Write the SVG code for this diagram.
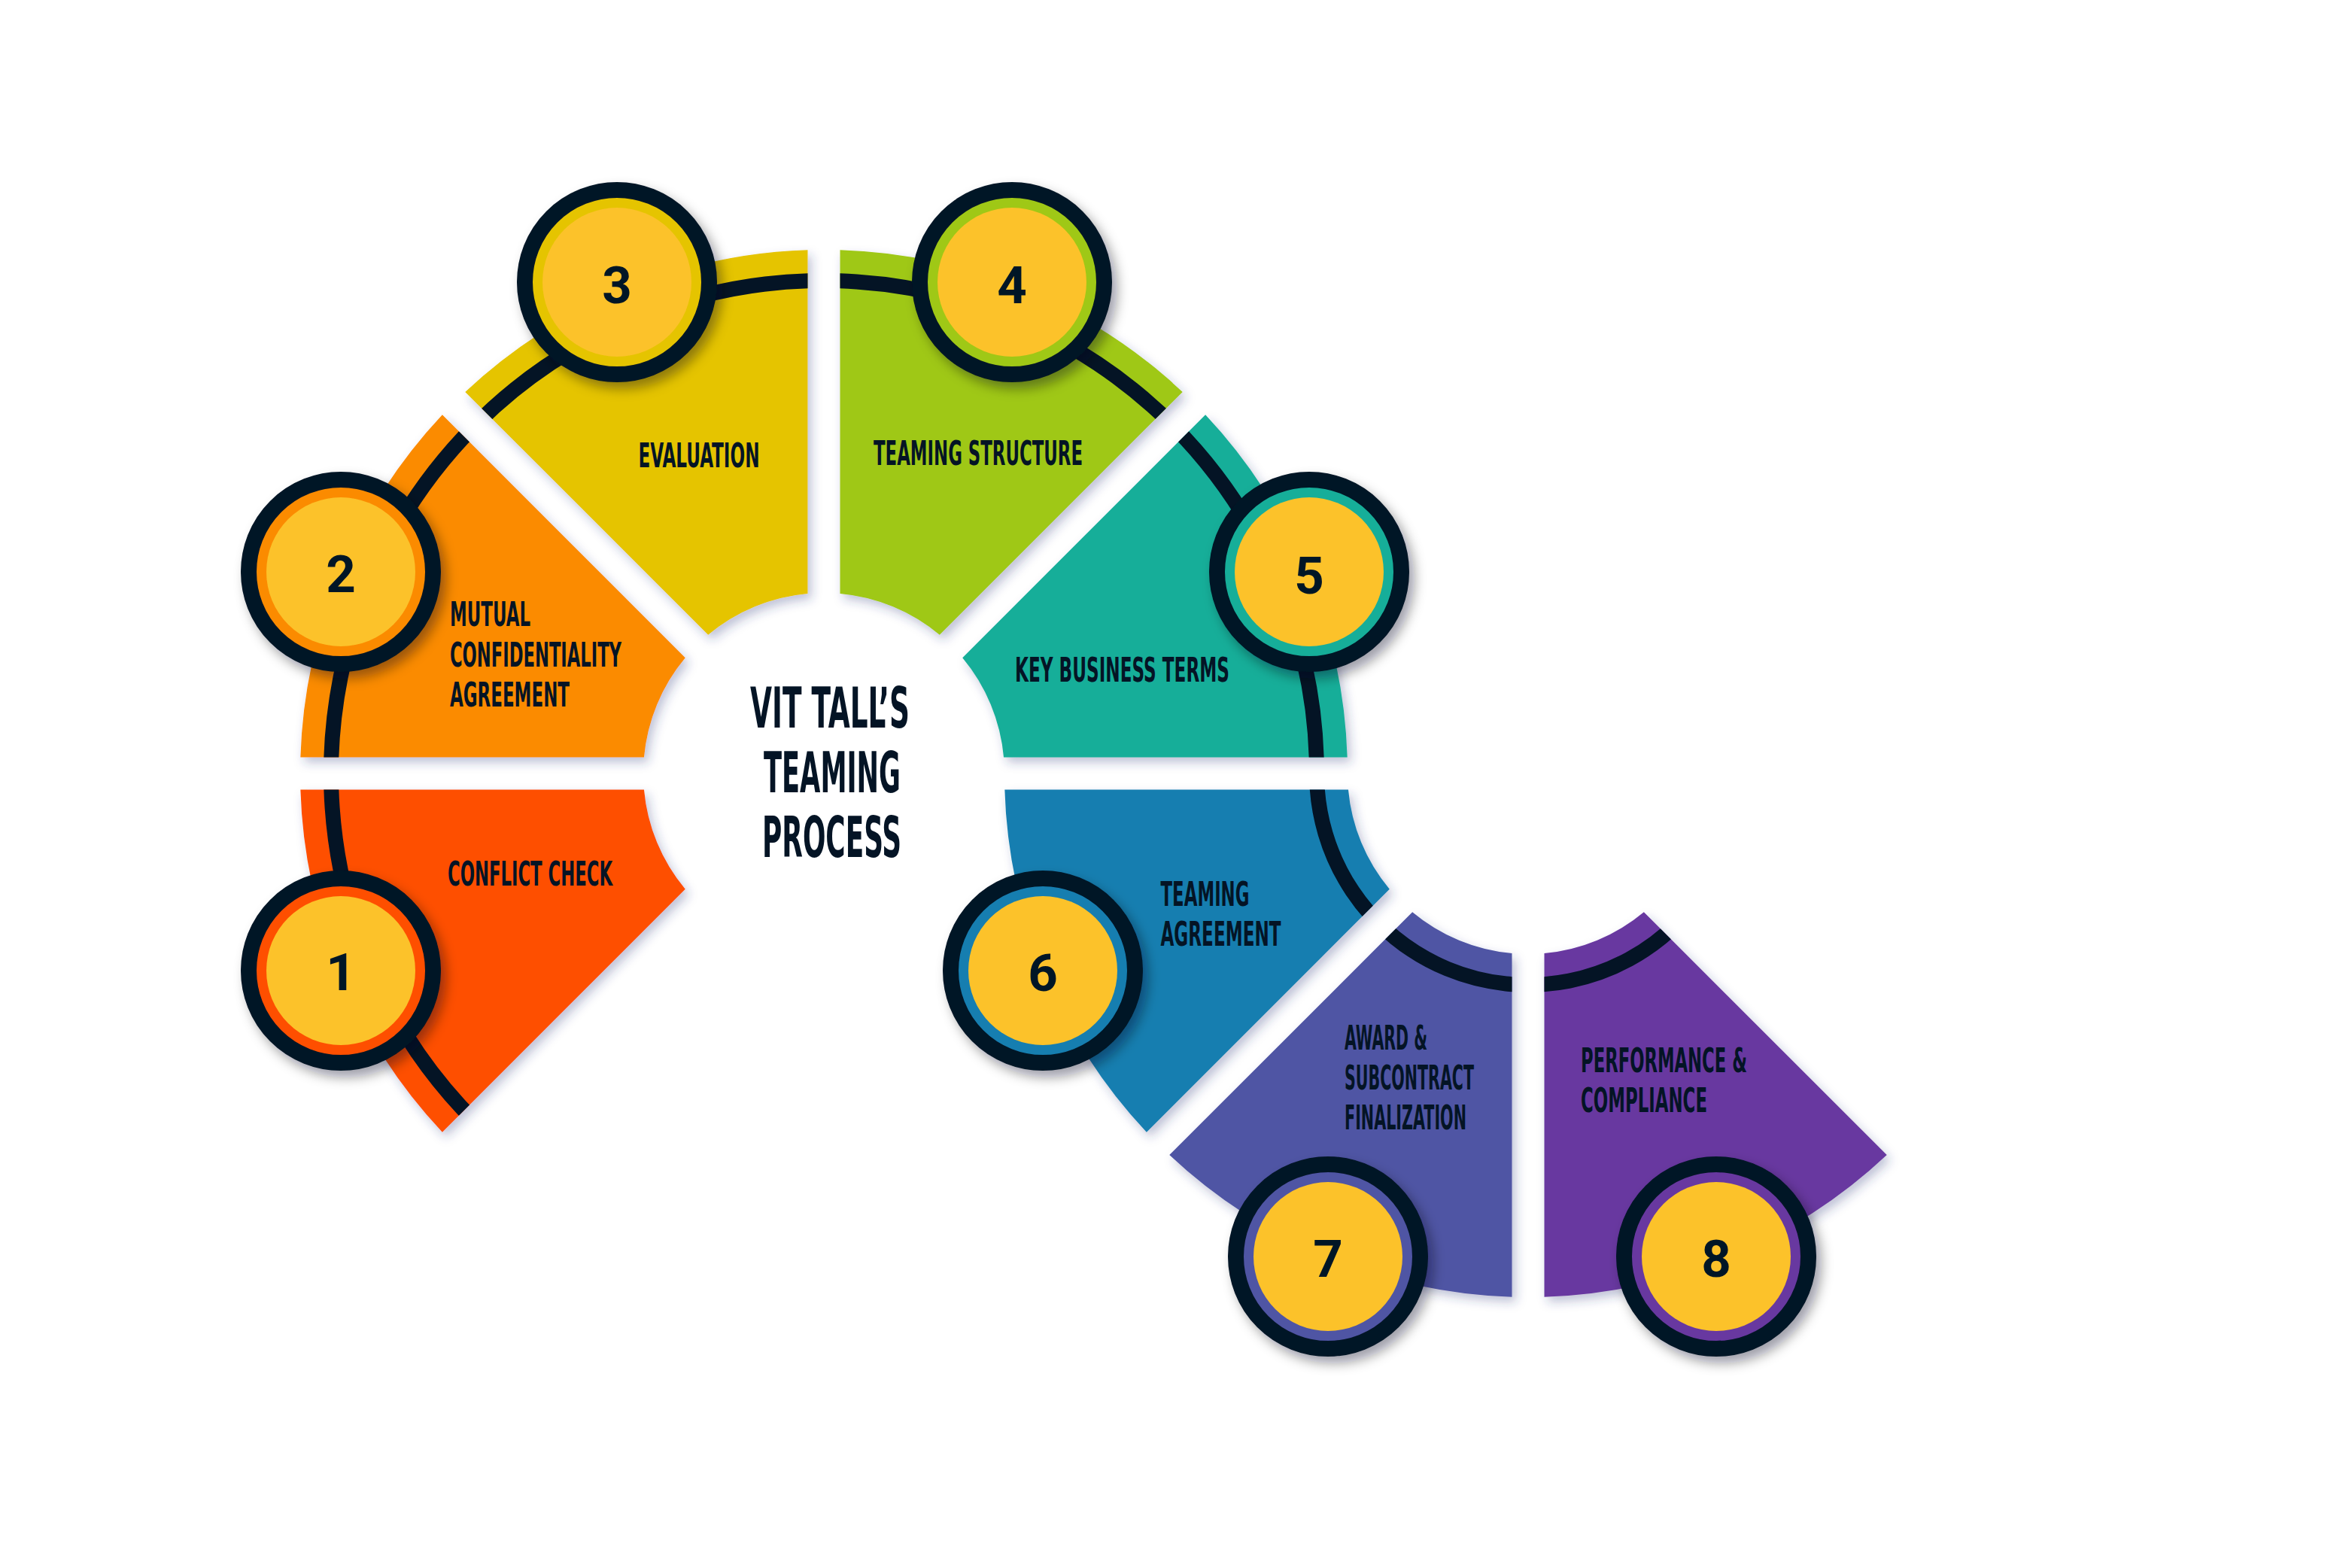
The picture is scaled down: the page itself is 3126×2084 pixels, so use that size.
<svg xmlns="http://www.w3.org/2000/svg" width="3126" height="2084" viewBox="0 0 3126 2084">
<style>
.lbl{font-family:"Liberation Sans Narrow","DejaVu Sans Condensed","Liberation Sans",sans-serif;font-weight:700;font-size:45px;fill:#041425}
.title{font-family:"Liberation Sans Narrow","DejaVu Sans Condensed","Liberation Sans",sans-serif;font-weight:700;font-size:75px;fill:#041425}
.num{font-family:Roboto,"Liberation Sans",sans-serif;font-weight:700;font-size:69px;fill:#041425;text-anchor:middle}
.ring{fill:none;stroke:#041425;stroke-width:20}
.seg{filter:url(#segShadow)}
.badge{filter:url(#badgeShadow)}
.bo{stroke:#041425;stroke-width:21}
.by{fill:#FCC22A}
</style>
<defs>
<filter id="segShadow" x="-20%" y="-20%" width="140%" height="140%">
<feDropShadow dx="5" dy="7" stdDeviation="7" flood-color="#2B3A7A" flood-opacity="0.3"/>
</filter>
<filter id="badgeShadow" x="-30%" y="-30%" width="160%" height="160%">
<feDropShadow dx="7" dy="9" stdDeviation="8" flood-color="#000814" flood-opacity="0.38"/>
</filter>
<path id="sRing" d="M631.85,1491.15 A655,655 0 1 1 1750,1028 A281,281 0 0 0 2229.7,1226.7"/>
<clipPath id="c1"><path d="M910.77,1181.83 L587.88,1504.72 A696,696 0 0 1 399.33,1049.5 L855.96,1049.5 A240,240 0 0 0 910.77,1181.83 Z"/></clipPath>
<clipPath id="c2"><path d="M855.96,1006.5 L399.33,1006.5 A696,696 0 0 1 587.88,551.28 L910.77,874.17 A240,240 0 0 0 855.96,1006.5 Z"/></clipPath>
<clipPath id="c3"><path d="M941.17,843.77 L618.28,520.88 A696,696 0 0 1 1073.5,332.33 L1073.5,788.96 A240,240 0 0 0 941.17,843.77 Z"/></clipPath>
<clipPath id="c4"><path d="M1116.5,788.96 L1116.5,332.33 A696,696 0 0 1 1571.72,520.88 L1248.83,843.77 A240,240 0 0 0 1116.5,788.96 Z"/></clipPath>
<clipPath id="c5"><path d="M1279.23,874.17 L1602.12,551.28 A696,696 0 0 1 1790.67,1006.5 L1334.04,1006.5 A240,240 0 0 0 1279.23,874.17 Z"/></clipPath>
<clipPath id="c6"><path d="M1846.77,1181.83 L1523.88,1504.72 A696,696 0 0 1 1335.33,1049.5 L1791.96,1049.5 A240,240 0 0 0 1846.77,1181.83 Z"/></clipPath>
<clipPath id="c7"><path d="M2009.5,1267.04 L2009.5,1723.67 A696,696 0 0 1 1554.28,1535.12 L1877.17,1212.23 A240,240 0 0 0 2009.5,1267.04 Z"/></clipPath>
<clipPath id="c8"><path d="M2184.83,1212.23 L2507.72,1535.12 A696,696 0 0 1 2052.5,1723.67 L2052.5,1267.04 A240,240 0 0 0 2184.83,1212.23 Z"/></clipPath>
</defs>
<rect width="3126" height="2084" fill="#FFFFFF"/>

<g id="node-1">
<path class="seg" fill="#FE5000" d="M910.77,1181.83 L587.88,1504.72 A696,696 0 0 1 399.33,1049.5 L855.96,1049.5 A240,240 0 0 0 910.77,1181.83 Z"/>
<text class="lbl" x="595" y="1177" textLength="219" lengthAdjust="spacingAndGlyphs">CONFLICT CHECK</text>
</g>
<g id="node-2">
<path class="seg" fill="#FB8B00" d="M855.96,1006.5 L399.33,1006.5 A696,696 0 0 1 587.88,551.28 L910.77,874.17 A240,240 0 0 0 855.96,1006.5 Z"/>
<text class="lbl" x="598" y="832" textLength="107" lengthAdjust="spacingAndGlyphs">MUTUAL</text>
<text class="lbl" x="598" y="886" textLength="228" lengthAdjust="spacingAndGlyphs">CONFIDENTIALITY</text>
<text class="lbl" x="598" y="939" textLength="159" lengthAdjust="spacingAndGlyphs">AGREEMENT</text>
</g>
<g id="node-3">
<path class="seg" fill="#E5C400" d="M941.17,843.77 L618.28,520.88 A696,696 0 0 1 1073.5,332.33 L1073.5,788.96 A240,240 0 0 0 941.17,843.77 Z"/>
<text class="lbl" x="848.5" y="621" textLength="161" lengthAdjust="spacingAndGlyphs">EVALUATION</text>
</g>
<g id="node-4">
<path class="seg" fill="#9FC815" d="M1116.5,788.96 L1116.5,332.33 A696,696 0 0 1 1571.72,520.88 L1248.83,843.77 A240,240 0 0 0 1116.5,788.96 Z"/>
<text class="lbl" x="1161" y="618" textLength="278" lengthAdjust="spacingAndGlyphs">TEAMING STRUCTURE</text>
</g>
<g id="node-5">
<path class="seg" fill="#15AE99" d="M1279.23,874.17 L1602.12,551.28 A696,696 0 0 1 1790.67,1006.5 L1334.04,1006.5 A240,240 0 0 0 1279.23,874.17 Z"/>
<text class="lbl" x="1349" y="906" textLength="285" lengthAdjust="spacingAndGlyphs">KEY BUSINESS TERMS</text>
</g>
<g id="node-6">
<path class="seg" fill="#157EB0" d="M1846.77,1181.83 L1523.88,1504.72 A696,696 0 0 1 1335.33,1049.5 L1791.96,1049.5 A240,240 0 0 0 1846.77,1181.83 Z"/>
<text class="lbl" x="1542.5" y="1204" textLength="118" lengthAdjust="spacingAndGlyphs">TEAMING</text>
<text class="lbl" x="1542.5" y="1257" textLength="160" lengthAdjust="spacingAndGlyphs">AGREEMENT</text>
</g>
<g id="node-7">
<path class="seg" fill="#4F54A4" d="M2009.5,1267.04 L2009.5,1723.67 A696,696 0 0 1 1554.28,1535.12 L1877.17,1212.23 A240,240 0 0 0 2009.5,1267.04 Z"/>
<text class="lbl" x="1787" y="1395" textLength="110" lengthAdjust="spacingAndGlyphs">AWARD &amp;</text>
<text class="lbl" x="1787" y="1448" textLength="172" lengthAdjust="spacingAndGlyphs">SUBCONTRACT</text>
<text class="lbl" x="1787" y="1501" textLength="162" lengthAdjust="spacingAndGlyphs">FINALIZATION</text>
</g>
<g id="node-8">
<path class="seg" fill="#6838A0" d="M2184.83,1212.23 L2507.72,1535.12 A696,696 0 0 1 2052.5,1723.67 L2052.5,1267.04 A240,240 0 0 0 2184.83,1212.23 Z"/>
<text class="lbl" x="2101" y="1425" textLength="221" lengthAdjust="spacingAndGlyphs">PERFORMANCE &amp;</text>
<text class="lbl" x="2101" y="1478" textLength="168" lengthAdjust="spacingAndGlyphs">COMPLIANCE</text>
</g>

<g id="connectors">
<use href="#sRing" class="ring" clip-path="url(#c1)"/>
<use href="#sRing" class="ring" clip-path="url(#c2)"/>
<use href="#sRing" class="ring" clip-path="url(#c3)"/>
<use href="#sRing" class="ring" clip-path="url(#c4)"/>
<use href="#sRing" class="ring" clip-path="url(#c5)"/>
<use href="#sRing" class="ring" clip-path="url(#c6)"/>
<use href="#sRing" class="ring" clip-path="url(#c7)"/>
<use href="#sRing" class="ring" clip-path="url(#c8)"/>
</g>

<g id="badges">
<g id="badge-1" class="badge"><circle class="bo" cx="453" cy="1290" r="122.5" fill="#FE5000"/><circle class="by" cx="453" cy="1290" r="99"/><text class="num" x="453" y="1316">1</text></g>
<g id="badge-2" class="badge"><circle class="bo" cx="453" cy="760" r="122.5" fill="#FB8B00"/><circle class="by" cx="453" cy="760" r="99"/><text class="num" x="453" y="787">2</text></g>
<g id="badge-3" class="badge"><circle class="bo" cx="820" cy="375" r="122.5" fill="#E5C400"/><circle class="by" cx="820" cy="375" r="99"/><text class="num" x="820" y="403">3</text></g>
<g id="badge-4" class="badge"><circle class="bo" cx="1345" cy="375" r="122.5" fill="#9FC815"/><circle class="by" cx="1345" cy="375" r="99"/><text class="num" x="1345" y="403">4</text></g>
<g id="badge-5" class="badge"><circle class="bo" cx="1740" cy="760" r="122.5" fill="#15AE99"/><circle class="by" cx="1740" cy="760" r="99"/><text class="num" x="1740" y="789">5</text></g>
<g id="badge-6" class="badge"><circle class="bo" cx="1386" cy="1290" r="122.5" fill="#157EB0"/><circle class="by" cx="1386" cy="1290" r="99"/><text class="num" x="1386" y="1317">6</text></g>
<g id="badge-7" class="badge"><circle class="bo" cx="1765" cy="1670" r="122.5" fill="#4F54A4"/><circle class="by" cx="1765" cy="1670" r="99"/><text class="num" x="1765" y="1697">7</text></g>
<g id="badge-8" class="badge"><circle class="bo" cx="2281" cy="1670" r="122.5" fill="#6838A0"/><circle class="by" cx="2281" cy="1670" r="99"/><text class="num" x="2281" y="1697">8</text></g>
</g>

<g id="title">
<text class="title" x="997" y="967" textLength="212" lengthAdjust="spacingAndGlyphs">VIT TALL’S</text>
<text class="title" x="1015" y="1053" textLength="182" lengthAdjust="spacingAndGlyphs">TEAMING</text>
<text class="title" x="1013" y="1139" textLength="185" lengthAdjust="spacingAndGlyphs">PROCESS</text>
</g>
</svg>
